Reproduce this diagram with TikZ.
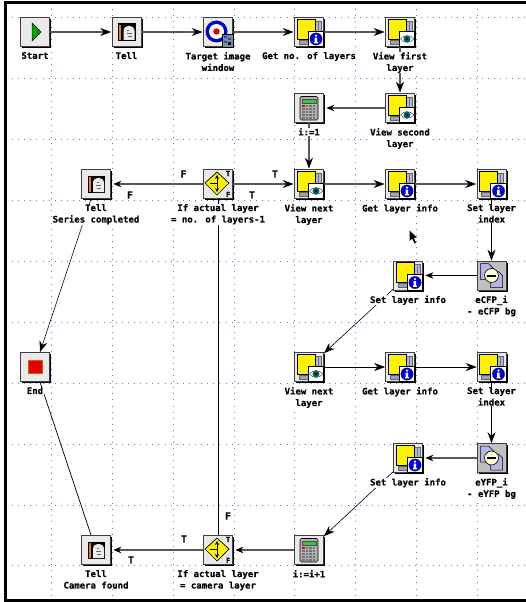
\documentclass[tikz,border=0pt]{standalone}
\usepackage{fontspec}
\setmainfont{DejaVu Sans Mono}[BoldFeatures={FakeBold=0.3}]
\usetikzlibrary{arrows.meta,positioning,shadows}
\definecolor{griddot}{HTML}{6E6EE6}
\definecolor{pagelav}{HTML}{B4B4E6}
\definecolor{iconface}{HTML}{EAEAEA}
\definecolor{linegray}{HTML}{585858}
\tikzset{
  iconbox/.style={draw=black!75, fill=iconface, line width=0.7pt, minimum size=29pt, inner sep=0pt,
    general shadow={fill=black, shadow xshift=1.7pt, shadow yshift=-1.7pt}},
  iconlabel/.style={font=\bfseries\fontsize{9}{11.5}\selectfont, align=center, fill=white, inner sep=0.6pt},
  branchlabel/.style={font=\bfseries\fontsize{10}{11}\selectfont, inner sep=0pt},
  flow/.style={-{Stealth[length=11pt,width=8pt,black]}, linegray, line width=1.3pt, shorten >=0.5pt},
  flowback/.style={-{Stealth[length=8pt,width=6.5pt,black]}, linegray, line width=1.3pt, shorten >=2.5pt},
  flowthin/.style={-{Stealth[length=11pt,width=8pt,black]}, black, line width=0.6pt},
  plainline/.style={black, line width=0.7pt},
  griddots/.style={griddot, line width=0.9pt, dash pattern=on 1pt off 5.1pt},
  % layer stack, the badge is drawn by the two pics below
  layerbase/.pic={
    \fill[pagelav, draw=black!60, line width=0.3pt] (-8,-11) rectangle (12,11);
    \draw[black!55, line width=0.5pt] (9,-10) -- (9,8) (6,-10) -- (6,8);
    \fill[pagelav!60!gray, draw=black!60, line width=0.3pt] (-10,8) rectangle (4,12);
    \fill[yellow, draw=black, line width=0.6pt] (-12,-13) rectangle (6,7);
    \fill[white, draw=black, line width=0.6pt] (-1,-1) rectangle (14.5,14.5);
  },
  layerinfo/.pic={
    \pic {layerbase};
    \fill[blue!85!black, draw=black, line width=0.2pt] (7,7) circle (6.2);
    \fill[white] (7,3.6) circle (1.2);
    \fill[white] (5.7,5.7) rectangle (8.1,10.2) (5,10.2) rectangle (9,11.4);
  },
  layereye/.pic={
    \pic {layerbase};
    \draw[black!70, fill=white, line width=0.5pt] (0.5,7) .. controls (4,2.5) and (10,2.5) .. (14,7) .. controls (10,11.5) and (4,11.5) .. (0.5,7);
    \fill[teal!80!black] (7,7) circle (3.5);
    \fill[black] (7,7) circle (1.5);
  },
  calcicon/.pic={
    \fill[black!30, draw=black, line width=0.6pt, rounded corners=1.5pt] (-9,-11.5) rectangle (9,12);
    \fill[green!55!gray, draw=black!70, line width=0.4pt] (-7,-9) rectangle (7,-5);
    \foreach \row in {-3,0,3,6,9}
      \foreach \col in {-7,-3.5,0,3.5}
        \fill[black!55] (\col,\row) rectangle ++(2.8,2);
    \fill[red!85!black] (-7,-3) rectangle ++(2.8,2);
  },
  tellicon/.pic={
    \fill[black] (-8.5,-8.5) rectangle (9,9);
    \fill[orange!70!brown] (-7.5,-7) rectangle (-5.5,8);
    \fill[white!85!gray] (-3,8) -- (-3,-1) .. controls (-3,-8) and (8,-8) .. (8,-1) -- (8,8) -- cycle;
    \draw[black!60, line width=0.4pt] (0.5,-2) -- (2.5,-2) (0,1) -- (5,1) (1,4) -- (5,4);
  },
  ificon/.pic={
    \fill[yellow, draw=black, line width=0.7pt] (-1,-12) -- (11,-1) -- (-1,11) -- (-13,-1) -- cycle;
    \draw[black!70!blue, line width=0.8pt, -{Stealth[length=4pt,width=4pt]}] (-1,-1) -- (-1,-9);
    \draw[black!70!blue, line width=0.8pt, -{Stealth[length=4pt,width=4pt]}] (-1,-1) -- (-1,8);
    \draw[black!70!blue, line width=0.8pt] (-8,-1) -- (-1,-1);
    \node[font=\bfseries\fontsize{7}{7}\selectfont, inner sep=0pt] at (10,-10.5) {T};
    \node[font=\bfseries\fontsize{7}{7}\selectfont, inner sep=0pt] at (10,10.5) {F};
  },
  targeticon/.pic={
    \fill[blue!80!black] (-1.5,-0.5) circle (11);
    \fill[white] (-1.5,-0.5) circle (7.5);
    \fill[red!90!black] (-1.5,-0.5) circle (3.2);
    \fill[black!35!cyan!40!gray, draw=black, line width=0.5pt] (4,2) rectangle (15,15);
    \fill[blue!50!gray] (6,4) rectangle ++(3,2) (10,6) rectangle ++(3,2) (6,9) rectangle ++(3,2);
    \fill[black] (10,10) rectangle ++(3,3);
  },
  subicon/.pic={
    \fill[pagelav, draw=black, line width=0.5pt] (-11,-12) -- (-3,-12) -- (2,-7) -- (2,4) -- (-11,4) -- cycle;
    \fill[pagelav, draw=black, line width=0.5pt] (-1,-4) -- (7,-4) -- (11,0) -- (11,12) -- (-1,12) -- cycle;
    \fill[yellow!20!white, draw=black, line width=0.6pt] (0,0) circle (7);
    \fill[black] (-4.5,-1) rectangle (4.5,1);
  },
}
\begin{document}
\begin{tikzpicture}[x=1pt, y=-1pt]
    \useasboundingbox (0,0) rectangle (526,602);
    % grid of the sheet
    \foreach \gy in {17,78,139,200,261,322,383,444,505,565}
      \draw[griddots] (12,\gy) -- (526,\gy);
    \foreach \gx in {51,112,173,234,294,355,416,477}
      \draw[griddots] (\gx,9) -- (\gx,599);
    % frame of the window
    \draw[black, line width=2.5pt] (526,2.5) -- (5.5,2.5) -- (5.5,600.5) -- (526,600.5);
    % icons
    \node[iconbox] (start) at (35,32) {};
    \node[iconbox] (tellfirst) at (126.5,32) {};
    \node[iconbox] (target) at (218,32) {};
    \node[iconbox] (getlayers) at (309,32) {};
    \node[iconbox] (viewfirst) at (400,32) {};
    \node[iconbox] (iinit) at (309,108) {};
    \node[iconbox] (viewsecond) at (400,108) {};
    \node[iconbox] (tellseries) at (96,184) {};
    \node[iconbox] (ifseries) at (218,184) {};
    \node[iconbox] (viewcfp) at (309,184) {};
    \node[iconbox] (getcfp) at (400,184) {};
    \node[iconbox] (setcfp) at (491.5,184) {};
    \node[iconbox] (infocfp) at (408,275.5) {};
    \node[iconbox, fill=black!25] (subcfp) at (491.5,275.5) {};
    \node[iconbox] (end) at (35,367) {};
    \node[iconbox] (viewyfp) at (309,367) {};
    \node[iconbox] (getyfp) at (400,367) {};
    \node[iconbox] (setyfp) at (491.5,367) {};
    \node[iconbox] (infoyfp) at (408,458) {};
    \node[iconbox, fill=black!25] (subyfp) at (491.5,458) {};
    \node[iconbox] (tellcamera) at (96,550) {};
    \node[iconbox] (ifcamera) at (218,550) {};
    \node[iconbox] (iinc) at (309,550) {};
    % connectors
    \draw[flow] (start) -- (tellfirst);
    \draw[flow] (tellfirst) -- (target);
    \draw[flow] (target) -- (getlayers);
    \draw[flow] (getlayers) -- (viewfirst);
    \draw[flow] (viewfirst) -- (viewsecond);
    \draw[flowback] (viewsecond) -- (iinit);
    \draw[flow] (iinit) -- (viewcfp);
    \draw[flow] (ifseries) -- (viewcfp);
    \draw[flowback] (ifseries) -- (tellseries);
    \draw[flow] (viewcfp) -- (getcfp);
    \draw[flow] (getcfp) -- (setcfp);
    \draw[flowthin] (setcfp) -- (subcfp);
    \draw[flowback, black, line width=0.7pt] (subcfp) -- (infocfp);
    \draw[flowthin] (infocfp) -- (viewyfp);
    \draw[flowthin] (viewyfp) -- (getyfp);
    \draw[flowthin] (getyfp) -- (setyfp);
    \draw[flowthin] (setyfp) -- (subyfp);
    \draw[flowback] (subyfp) -- (infoyfp);
    \draw[flowthin] (infoyfp) -- (iinc);
    \draw[flowback] (iinc) -- (ifcamera);
    \draw[flowback] (ifcamera) -- (tellcamera);
    \draw[plainline] (ifcamera) -- (ifseries);
    \draw[flowthin] (tellseries) -- (end);
    \draw[plainline] (tellcamera) -- (end);
    % icon faces
    \fill[green!65!black, draw=black, line width=0.5pt] (32,23) -- (41,32) -- (32,41) -- cycle;
    \pic at (tellfirst) {tellicon};
    \pic at (target) {targeticon};
    \pic at (getlayers) {layerinfo};
    \pic at (viewfirst) {layereye};
    \pic at (iinit) {calcicon};
    \pic at (viewsecond) {layereye};
    \pic at (tellseries) {tellicon};
    \pic at (ifseries) {ificon};
    \pic at (viewcfp) {layereye};
    \pic at (getcfp) {layerinfo};
    \pic at (setcfp) {layerinfo};
    \pic at (infocfp) {layerinfo};
    \pic at (subcfp) {subicon};
    \fill[red!90!black, draw=orange!80!black, line width=0.8pt] (28,360) rectangle (42,373.5);
    \pic at (viewyfp) {layereye};
    \pic at (getyfp) {layerinfo};
    \pic at (setyfp) {layerinfo};
    \pic at (infoyfp) {layerinfo};
    \pic at (subyfp) {subicon};
    \pic at (tellcamera) {tellicon};
    \pic at (ifcamera) {ificon};
    \pic at (iinc) {calcicon};
    % labels
    \node[iconlabel, below=4.5pt of start] (startlabel) {Start};
    \node[iconlabel, below=4.5pt of tellfirst] (tellfirstlabel) {Tell};
    \node[iconlabel, below=4.5pt of target] (targetlabel) {Target image\\window};
    \node[iconlabel, below=4.5pt of getlayers] (getlayerslabel) {Get no. of layers};
    \node[iconlabel, below=4.5pt of viewfirst] (viewfirstlabel) {View first\\layer};
    \node[iconlabel, below=4.5pt of iinit] (iinitlabel) {i:=1};
    \node[iconlabel, below=4.5pt of viewsecond] (viewsecondlabel) {View second\\layer};
    \node[iconlabel, below=4.5pt of tellseries] (tellserieslabel) {Tell\\Series completed};
    \node[iconlabel, below=4.5pt of ifseries] (ifserieslabel) {If actual layer\\= no. of layers-1};
    \node[iconlabel, below=4.5pt of viewcfp] (viewcfplabel) {View next\\layer};
    \node[iconlabel, below=4.5pt of getcfp] (getcfplabel) {Get layer info};
    \node[iconlabel, below=4.5pt of setcfp] (setcfplabel) {Set layer\\index};
    \node[iconlabel, below=4.5pt of infocfp] (infocfplabel) {Set layer info};
    \node[iconlabel, below=4.5pt of subcfp] (subcfplabel) {eCFP\_i\\- eCFP bg};
    \node[iconlabel, below=4.5pt of end] (endlabel) {End};
    \node[iconlabel, below=4.5pt of viewyfp] (viewyfplabel) {View next\\layer};
    \node[iconlabel, below=4.5pt of getyfp] (getyfplabel) {Get layer info};
    \node[iconlabel, below=4.5pt of setyfp] (setyfplabel) {Set layer\\index};
    \node[iconlabel, below=4.5pt of infoyfp] (infoyfplabel) {Set layer info};
    \node[iconlabel, below=4.5pt of subyfp] (subyfplabel) {eYFP\_i\\- eYFP bg};
    \node[iconlabel, below=4.5pt of tellcamera] (tellcameralabel) {Tell\\Camera found};
    \node[iconlabel, below=4.5pt of ifcamera] (ifcameralabel) {If actual layer\\= camera layer};
    \node[iconlabel, below=4.5pt of iinc] (iinclabel) {i:=i+1};
    % branch marks
    \node[branchlabel] (seriesf) at (183.5,174) {F};
    \node[branchlabel] (seriesfb) at (130,195) {F};
    \node[branchlabel] (seriest) at (252,195) {T};
    \node[branchlabel] (seriestb) at (275,174) {T};
    \node[branchlabel] (cameraf) at (228,516) {F};
    \node[branchlabel] (camerat) at (184,539) {T};
    \node[branchlabel] (cameratb) at (131,560) {T};
    % mouse pointer
    \fill[black] (409.5,230.5) -- (409.5,241) -- (412,238.5) -- (414.5,243.5) -- (416,242.5) -- (413.8,237.8) -- (417,237.5) -- cycle;
  \end{tikzpicture}
\end{document}
